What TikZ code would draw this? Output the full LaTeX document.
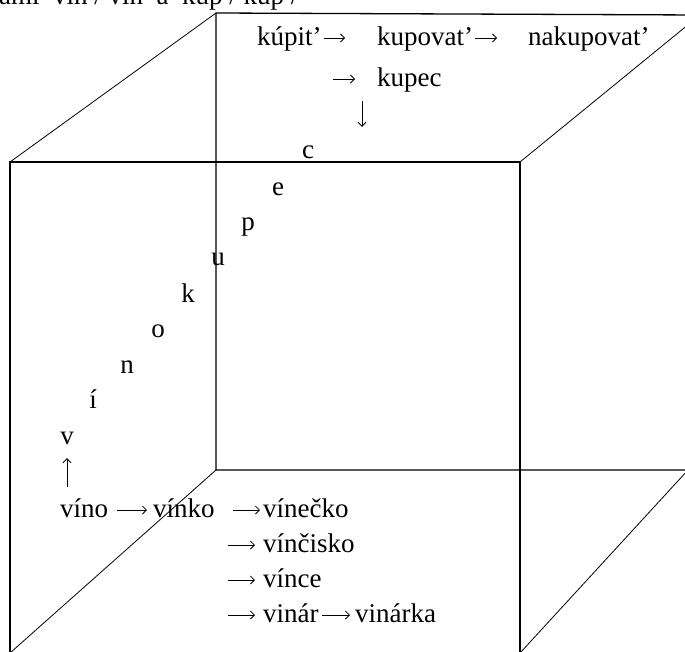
\documentclass[tikz,border=0pt]{standalone}
\usepackage{fontspec}
\setmainfont{Liberation Serif}
\usetikzlibrary{arrows.meta}

\begin{document}
\begin{tikzpicture}[x=1pt, y=-1pt, >={Straight Barb[length=4pt,width=8pt]},
  word/.style={inner sep=0pt, anchor=base west, text height=20pt, text depth=6pt,
    font=\fontsize{27}{30}\selectfont},
  letter/.style={word, anchor=base},
  link/.style={->, line width=0.8pt, shorten <=2pt, shorten >=2pt},
  rim/.style={line width=1.3pt},
  slant/.style={line width=0.8pt}]
  \useasboundingbox (0,0) rectangle (685,651);
  \clip (0,0) rectangle (685,651);

  % cube
  \coordinate (f1) at (10,162);  \coordinate (f2) at (520,162);
  \coordinate (f3) at (520,653); \coordinate (f4) at (10,653);
  \coordinate (b1) at (216,13);  \coordinate (b2) at (700,15);
  \coordinate (b3) at (688,470); \coordinate (b4) at (216,470);
  \draw[rim] (f4) -- (f1) -- (f2) -- (f3);
  \draw[rim] (b2) -- (b1) -- (b4) -- (b3);
  \draw[slant] (f1) -- (b1) (f2) -- (b2) (f3) -- (b3) (f4) -- (b4);

  % line cut off at the top
  \node[word] (head) at (-1,4) {ami~~vín / vin~~a~~kúp / kup /};

  % kupit branch
  \node[word] (kupit) at (257,45) {kúpit’};
  \node[word] (kupovat) at (377,45) {kupovat’};
  \node[word] (nakupovat) at (528,45) {nakupovat’};
  \node[word] (kupec) at (377,86) {kupec};
  \coordinate (kt) at (333,79);
  \draw[link, shorten >=32pt] (kupit) -- (kupovat);
  \draw[link, shorten >=31pt] (kupovat) -- (nakupovat);
  \draw[link, shorten <=0pt, shorten >=22pt] (kt) -- (kupec);

  % vino branch
  \node[word] (vino) at (60,517) {víno};
  \node[word] (vinko) at (153,517) {vínko};
  \node[word] (vinecko) at (263,517) {vínečko};
  \node[word] (vincisko) at (263,552) {vínčisko};
  \node[word] (vince) at (263,587) {vínce};
  \node[word] (vinar) at (263,622) {vinár};
  \node[word] (vinarka) at (355,622) {vinárka};
  \foreach \n/\y in {2/545, 3/580, 4/615}
    \coordinate (t\n) at (228,\y);
  \draw[link, shorten <=9pt, shorten >=6pt] (vino) -- (vinko);
  \draw[link, shorten <=18pt, shorten >=3pt] (vinko) -- (vinecko);
  \draw[link, shorten <=0pt, shorten >=8pt] (t2) -- (vincisko);
  \draw[link, shorten <=0pt, shorten >=8pt] (t3) -- (vince);
  \draw[link, shorten <=0pt, shorten >=8pt] (t4) -- (vinar);
  \draw[link, shorten <=3pt, shorten >=5pt] (vinar) -- (vinarka);

  % vinokupec along the diagonal
  \foreach \ch/\x/\y [count=\i] in {v/67/444, í/93/408, n/127/373, o/158/337,
      k/188/302, u/218/265, p/248/230, e/278/195, c/308/158}
    \node[letter] (l\i) at (\x,\y) {\ch};
  \draw[link, shorten <=10pt, shorten >=8pt] (l1.south |- vino.north) -- (l1.south);
  \coordinate (kd) at ([xshift=-15pt]kupec.south west);
  \draw[link, shorten <=9pt, shorten >=11pt] (kd) -- (kd |- l9.north);
\end{tikzpicture}
\end{document}
